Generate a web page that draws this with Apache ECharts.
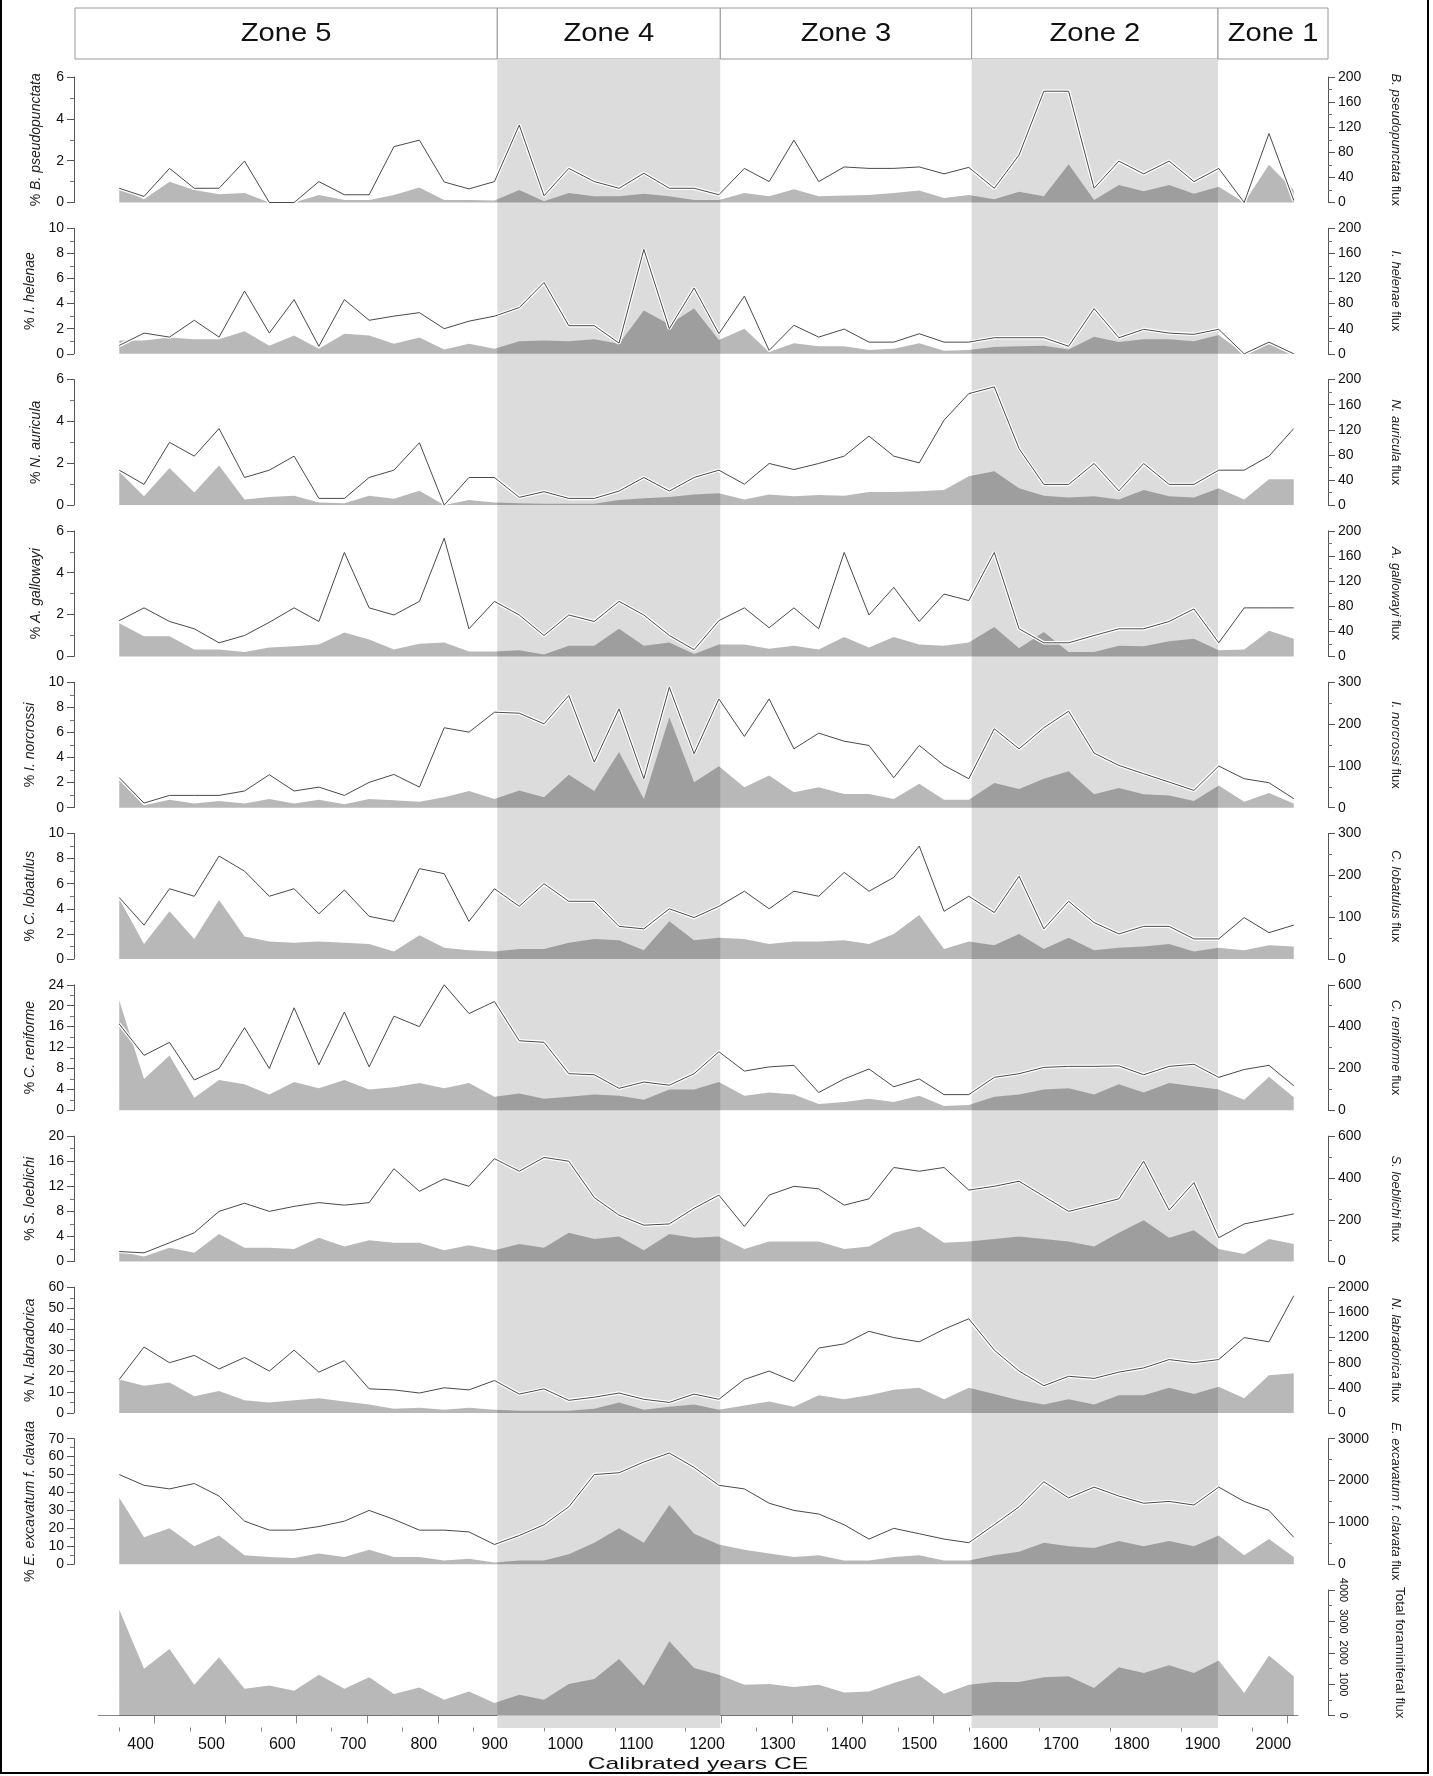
<!DOCTYPE html>
<html>
<head>
<meta charset="utf-8">
<script src="https://cdn.jsdelivr.net/npm/echarts@6/dist/echarts.min.js"></script>
<style>
html, body { margin: 0; padding: 0; background: #fff; }
#chart { width: 1433px; height: 1776px; }
</style>
</head>
<body>
<div id="chart"></div>
<script>
// sample ages (calibrated years CE)
const years = [350, 385, 421, 456, 491, 527, 562, 597, 632, 668, 703, 738, 774, 809, 844, 880,
  915, 950, 985, 1021, 1056, 1091, 1127, 1162, 1197, 1233, 1268, 1303, 1338, 1374, 1409, 1444,
  1480, 1515, 1550, 1586, 1621, 1656, 1691, 1727, 1762, 1797, 1833, 1868, 1903, 1939, 1974, 2009];

const zoneEdges = [884, 1199, 1554, 1902];
const zoneNames = ['Zone 5', 'Zone 4', 'Zone 3', 'Zone 2', 'Zone 1'];
const xMajorTicks = [400, 500, 600, 700, 800, 900, 1000, 1100, 1200, 1300, 1400, 1500, 1600, 1700, 1800, 1900, 2000];
const xMinorTicks = [350, 450, 550, 650, 750, 850, 950, 1050, 1150, 1250, 1350, 1450, 1550, 1650, 1750, 1850, 1950];

// % (line) and flux (filled) per species
const bPseudoPct = [0.68, 0.29, 1.63, 0.68, 0.68, 1.98, 0, 0, 1.0, 0.37, 0.37, 2.67, 2.98, 0.98, 0.65, 1.0, 3.7, 0.32, 1.63, 1.0, 0.68, 1.4, 0.68, 0.68, 0.37, 1.63, 1.0, 2.98, 1.0, 1.7, 1.63, 1.63, 1.7, 1.37, 1.68, 0.68, 2.27, 5.32, 5.32, 0.68, 1.98, 1.37, 1.98, 1.0, 1.63, 0, 3.3, 0.1];
const bPseudoFlux = [23, 5, 33, 20, 13, 15, 0, 0, 12, 4, 4, 12, 24, 4, 4, 3, 20, 2, 15, 10, 10, 14, 10, 4, 4, 15, 10, 21, 10, 11, 12, 15, 19, 7, 12, 5, 17, 10, 61, 4, 28, 18, 28, 14, 25, 0, 60, 20];

const iHelenaePct = [0.67, 1.65, 1.33, 2.67, 1.33, 5.0, 1.65, 4.32, 0.6, 4.32, 2.67, 3.0, 3.28, 2.0, 2.6, 3.0, 3.68, 5.68, 2.24, 2.24, 0.85, 8.32, 2.0, 5.25, 1.6, 4.6, 0.27, 2.27, 1.33, 1.97, 0.93, 0.93, 1.6, 0.93, 0.93, 1.28, 1.28, 1.28, 0.6, 3.6, 1.28, 1.95, 1.65, 1.55, 1.95, 0, 0.93, 0];
const iHelenaeFlux = [21, 21, 26, 23, 23, 36, 13, 29, 8, 32, 29, 16, 26, 7, 16, 8, 20, 21, 20, 23, 16, 69, 47, 72, 22, 40, 3, 17, 12, 12, 6, 8, 17, 5, 6, 11, 12, 13, 7, 27, 19, 23, 23, 20, 30, 0, 18, 0];

const nAuriculaPct = [1.67, 0.99, 3.0, 2.34, 3.66, 1.32, 1.67, 2.34, 0.32, 0.32, 1.32, 1.67, 2.98, 0, 1.32, 1.32, 0.37, 0.64, 0.32, 0.32, 0.67, 1.32, 0.67, 1.32, 1.67, 1.0, 1.99, 1.7, 1.99, 2.34, 3.3, 2.34, 2.02, 4.06, 5.33, 5.65, 2.7, 0.99, 0.99, 1.99, 0.68, 1.99, 0.99, 0.99, 1.67, 1.67, 2.34, 3.66];
const nAuriculaFlux = [53, 14, 59, 20, 63, 9, 13, 15, 4, 3, 15, 10, 23, 0, 8, 4, 3, 2, 2, 2, 8, 11, 13, 17, 19, 9, 17, 14, 16, 15, 21, 21, 22, 24, 46, 54, 27, 15, 12, 14, 9, 24, 14, 12, 27, 9, 41, 41];

const aGallowayiPct = [1.71, 2.32, 1.67, 1.32, 0.65, 1.0, 1.63, 2.32, 1.67, 4.97, 2.32, 1.98, 2.63, 5.65, 1.32, 2.63, 1.98, 1.0, 1.98, 1.67, 2.63, 1.98, 1.0, 0.32, 1.71, 2.32, 1.37, 2.32, 1.32, 4.97, 1.98, 3.3, 1.67, 2.98, 2.67, 4.97, 1.32, 0.65, 0.65, 1.0, 1.32, 1.32, 1.67, 2.27, 0.65, 2.32, 2.32, 2.32];
const aGallowayiFlux = [53, 32, 32, 11, 11, 7, 14, 16, 19, 38, 27, 11, 20, 22, 8, 8, 10, 3, 17, 17, 44, 17, 22, 4, 19, 19, 12, 17, 11, 31, 14, 31, 19, 17, 22, 47, 13, 39, 7, 7, 17, 16, 24, 28, 10, 11, 41, 28];

const iNorcrossiPct = [2.39, 0.37, 0.98, 0.98, 0.98, 1.33, 2.63, 1.33, 1.64, 0.98, 2.02, 2.65, 1.64, 6.37, 6.02, 7.61, 7.53, 6.68, 8.94, 3.63, 7.88, 2.31, 9.6, 4.3, 8.67, 5.68, 8.67, 4.69, 5.94, 5.3, 4.96, 2.39, 4.96, 3.37, 2.31, 6.29, 4.69, 6.37, 7.69, 4.35, 3.37, 2.71, 2.04, 1.38, 3.32, 2.31, 1.99, 0.72];
const iNorcrossiFlux = [72, 6, 19, 10, 16, 10, 21, 10, 19, 8, 21, 18, 14, 25, 40, 21, 41, 25, 79, 40, 133, 21, 216, 61, 99, 49, 77, 37, 49, 33, 33, 21, 57, 19, 19, 59, 45, 69, 87, 32, 47, 32, 29, 16, 53, 14, 35, 10];

const cLobatulusPct = [4.9, 2.7, 5.6, 5.0, 8.2, 7.0, 5.0, 5.6, 3.6, 5.5, 3.4, 3.0, 7.2, 6.8, 3.0, 5.6, 4.2, 6.0, 4.6, 4.6, 2.6, 2.4, 4.0, 3.3, 4.2, 5.4, 4.0, 5.4, 5.0, 6.9, 5.4, 6.5, 9.0, 3.8, 5.0, 3.7, 6.6, 2.4, 4.6, 2.9, 2.0, 2.6, 2.6, 1.6, 1.6, 3.3, 2.1, 2.7];
const cLobatulusFlux = [144, 36, 114, 48, 141, 54, 42, 39, 42, 39, 36, 18, 57, 27, 21, 18, 24, 24, 39, 48, 45, 21, 90, 45, 51, 48, 36, 42, 42, 45, 36, 60, 105, 24, 42, 33, 60, 24, 51, 21, 27, 30, 36, 18, 27, 21, 33, 30];

const cReniformePct = [16.5, 10.5, 13, 5.8, 8, 15.8, 8, 19.6, 8.7, 18.8, 8.3, 18, 16, 24, 18.5, 20.8, 13.3, 13, 7, 6.8, 4.2, 5.4, 4.8, 7, 11.2, 7.5, 8.3, 8.6, 3.4, 6, 7.9, 4.5, 6, 3, 3, 6.3, 7, 8.2, 8.4, 8.4, 8.5, 6.8, 8.4, 8.8, 6.3, 7.8, 8.6, 4.7];
const cReniformeFlux = [525, 150, 262, 60, 145, 125, 75, 135, 105, 145, 100, 110, 130, 105, 130, 65, 80, 55, 65, 75, 70, 50, 100, 100, 135, 70, 85, 75, 30, 40, 55, 40, 70, 20, 25, 65, 75, 100, 105, 75, 125, 85, 130, 115, 100, 50, 160, 62];

const sLoeblichiPct = [1.6, 1.4, 3, 4.6, 8, 9.3, 8, 8.8, 9.4, 9, 9.4, 14.8, 11.2, 13.2, 12, 16.4, 14.4, 16.6, 16, 10.2, 7.4, 5.8, 6, 8.5, 10.6, 5.6, 10.6, 12, 11.6, 9, 10, 15, 14.4, 15, 11.4, 12, 12.8, 10.4, 8, 9, 10, 16, 8.2, 12.6, 3.8, 6, 6.8, 7.6];
const sLoeblichiFlux = [48, 24, 66, 42, 132, 66, 66, 60, 114, 72, 102, 90, 90, 54, 78, 54, 84, 66, 138, 108, 120, 54, 132, 114, 120, 60, 96, 96, 96, 60, 72, 138, 168, 90, 96, 108, 120, 108, 96, 72, 138, 198, 114, 150, 60, 36, 108, 84];

const nLabradoricaPct = [16, 31.5, 24, 27.5, 21, 26.5, 20, 30, 19.5, 25, 11.5, 11, 9.5, 12, 11, 15.5, 9, 11.5, 6, 7.5, 9.5, 6.5, 5, 9, 6.5, 16, 20, 15, 31, 33, 39, 36, 34, 40, 45, 30, 20, 13, 17.5, 16.5, 19.5, 21.5, 25.5, 24, 25.5, 36, 34, 56];
const nLabradoricaFlux = [533, 433, 483, 267, 350, 200, 167, 200, 233, 183, 133, 67, 83, 50, 83, 50, 33, 33, 33, 67, 167, 50, 100, 133, 50, 117, 183, 100, 283, 217, 283, 367, 400, 217, 400, 300, 200, 133, 217, 133, 283, 283, 400, 300, 417, 233, 600, 633];

const eExcavatumPct = [50, 44, 42, 45, 38, 24, 19, 19, 21, 24, 30, 25, 19, 19, 18, 11, 16, 22, 32, 50, 51, 57, 62, 54, 44, 42, 34, 30, 28, 22, 14, 20, 17, 14, 12, 22, 32, 46, 37, 43, 38, 34, 35, 33, 43, 35, 30, 15];
const eExcavatumFlux = [1586, 643, 857, 429, 686, 214, 171, 150, 257, 171, 343, 171, 171, 86, 129, 43, 86, 86, 236, 514, 857, 514, 1414, 729, 471, 343, 257, 171, 214, 86, 86, 171, 214, 86, 86, 214, 300, 514, 429, 386, 557, 429, 557, 429, 686, 214, 600, 171];

const totalFlux = [3382, 1494, 2123, 981, 1856, 853, 960, 790, 1301, 853, 1216, 683, 896, 501, 768, 395, 661, 501, 1003, 1163, 1803, 949, 2368, 1515, 1301, 981, 1003, 907, 981, 736, 768, 1035, 1280, 693, 981, 1067, 1067, 1216, 1248, 875, 1536, 1355, 1600, 1355, 1750, 715, 1910, 1248];

const panels = [
  { pct: bPseudoPct, flux: bPseudoFlux, sp: 'B. pseudopunctata', lmax: 6, lint: 2, rmax: 200, rint: 40 },
  { pct: iHelenaePct, flux: iHelenaeFlux, sp: 'I. helenae', lmax: 10, lint: 2, rmax: 200, rint: 40 },
  { pct: nAuriculaPct, flux: nAuriculaFlux, sp: 'N. auricula', lmax: 6, lint: 2, rmax: 200, rint: 40 },
  { pct: aGallowayiPct, flux: aGallowayiFlux, sp: 'A. gallowayi', lmax: 6, lint: 2, rmax: 200, rint: 40 },
  { pct: iNorcrossiPct, flux: iNorcrossiFlux, sp: 'I. norcrossi', lmax: 10, lint: 2, rmax: 300, rint: 100 },
  { pct: cLobatulusPct, flux: cLobatulusFlux, sp: 'C. lobatulus', lmax: 10, lint: 2, rmax: 300, rint: 100 },
  { pct: cReniformePct, flux: cReniformeFlux, sp: 'C. reniforme', lmax: 24, lint: 4, rmax: 600, rint: 200 },
  { pct: sLoeblichiPct, flux: sLoeblichiFlux, sp: 'S. loeblichi', lmax: 20, lint: 4, rmax: 600, rint: 200 },
  { pct: nLabradoricaPct, flux: nLabradoricaFlux, sp: 'N. labradorica', lmax: 60, lint: 10, rmax: 2000, rint: 400 },
  { pct: eExcavatumPct, flux: eExcavatumFlux, sp: 'E. excavatum f. clavata', lmax: 70, lint: 10, rmax: 3000, rint: 1000 }
];

const FONT = "'Liberation Sans', Arial, sans-serif";
const X_MIN = 320, X_MAX = 2015;
const GRID_LEFT = 98, GRID_RIGHT = 135;
const TOP0 = 77, STEP = 151.3, PH = 125.5;

function nameStyle(size) {
  return {
    fontFamily: FONT, fontSize: size, color: '#222',
    rich: {
      p: { fontFamily: FONT, fontSize: size, color: '#222' },
      i: { fontFamily: FONT, fontSize: size, color: '#222', fontStyle: 'italic' }
    }
  };
}

function yAxisDef(grid, side, max, interval, name) {
  const left = side === 'left';
  return {
    gridIndex: grid, type: 'value', position: side, offset: left ? 24 : 30,
    min: 0, max: max, interval: interval,
    axisLine: { show: true, lineStyle: { color: '#555' } },
    axisTick: { show: true, length: 7, lineStyle: { color: '#555' } },
    minorTick: { show: true, splitNumber: 2, length: 4, lineStyle: { color: '#777' } },
    splitLine: { show: false },
    axisLabel: { fontFamily: FONT, fontSize: 14, color: '#111', margin: 10, formatter: v => String(v) },
    name: name, nameLocation: 'middle', nameRotate: left ? 90 : -90,
    nameGap: left ? 31 : 61,
    nameTextStyle: nameStyle(left ? 14 : 13)
  };
}

const grids = [{ left: GRID_LEFT, right: GRID_RIGHT, top: 59, height: 1669 }];
const xAxes = [{ gridIndex: 0, type: 'value', min: X_MIN, max: X_MAX, show: false }];
const yAxes = [{ gridIndex: 0, type: 'value', min: 0, max: 1, show: false }];
const series = [{
  type: 'line', xAxisIndex: 0, yAxisIndex: 0, data: [[X_MIN, 0]], symbol: 'none',
  lineStyle: { opacity: 0 }, silent: true,
  markArea: {
    silent: true, itemStyle: { color: '#dcdcdc' },
    data: [[{ xAxis: zoneEdges[0] }, { xAxis: zoneEdges[1] }], [{ xAxis: zoneEdges[2] }, { xAxis: zoneEdges[3] }]]
  }
}];

function areaSeries(xi, yi, vals) {
  return {
    type: 'line', xAxisIndex: xi, yAxisIndex: yi, symbol: 'none', silent: true,
    data: years.map((y, i) => [y, vals[i]]),
    lineStyle: { opacity: 0 },
    areaStyle: { color: 'rgba(0,0,0,0.28)', opacity: 1 }
  };
}

panels.forEach((p, k) => {
  const g = k + 1;
  grids.push({ left: GRID_LEFT, right: GRID_RIGHT, top: TOP0 + STEP * k, height: PH });
  xAxes.push({ gridIndex: g, type: 'value', min: X_MIN, max: X_MAX, show: false });
  const li = yAxes.length;
  yAxes.push(yAxisDef(g, 'left', p.lmax, p.lint, '{p|% }{i|' + p.sp + '}'));
  yAxes.push(yAxisDef(g, 'right', p.rmax, p.rint, '{i|' + p.sp + '} {p|flux}'));
  series.push(areaSeries(g, li + 1, p.flux));
  const pts = years.map((y, i) => [y, p.pct[i]]);
  series.push({ type: 'line', xAxisIndex: g, yAxisIndex: li, symbol: 'none', silent: true, data: pts,
    lineStyle: { color: '#ffffff', width: 3.5 } });
  series.push({ type: 'line', xAxisIndex: g, yAxisIndex: li, symbol: 'none', silent: true, data: pts,
    lineStyle: { color: '#4a4a4a', width: 1 } });
});

// total foraminiferal flux panel with the time axis
const gT = panels.length + 1;
grids.push({ left: GRID_LEFT, right: GRID_RIGHT, top: TOP0 + STEP * panels.length, height: PH });
const xiMajor = xAxes.length;
xAxes.push({
  gridIndex: gT, type: 'value', min: X_MIN, max: X_MAX, position: 'bottom', offset: 12,
  axisLine: { show: true, lineStyle: { color: '#888' } },
  axisTick: { show: true, customValues: xMajorTicks, length: 8, lineStyle: { color: '#888' } },
  splitLine: { show: false },
  axisLabel: { customValues: xMajorTicks, fontFamily: FONT, fontSize: 16, color: '#111', margin: 9,
    padding: [0, 28, 0, 0], formatter: v => String(v) }
});
xAxes.push({
  gridIndex: gT, type: 'value', min: X_MIN, max: X_MAX, position: 'bottom', offset: 12,
  axisLine: { show: false },
  axisTick: { show: true, customValues: xMinorTicks, length: 4, lineStyle: { color: '#888' } },
  splitLine: { show: false }, axisLabel: { show: false }
});
const yiTot = yAxes.length;
const totAxis = yAxisDef(gT, 'right', 4000, 1000, 'Total foraminiferal flux');
totAxis.axisLabel.rotate = -90;
totAxis.axisLabel.fontSize = 11;
totAxis.nameGap = 65;
totAxis.nameTextStyle = nameStyle(13.5);
yAxes.push(totAxis);
series.push(areaSeries(xiMajor, yiTot, totalFlux));

const chart = echarts.init(document.getElementById('chart'));
chart.setOption({
  animation: false,
  backgroundColor: '#fff',
  grid: grids,
  xAxis: xAxes,
  yAxis: yAxes,
  series: series
});

// zone header boxes, aligned with the shaded bands
const edgesPx = [75].concat(zoneEdges.map(v => chart.convertToPixel({ xAxisIndex: 0 }, v))).concat([1328]);
const graphic = [];
zoneNames.forEach((name, j) => {
  graphic.push({
    type: 'rect', shape: { x: edgesPx[j], y: 8, width: edgesPx[j + 1] - edgesPx[j], height: 51 },
    style: { fill: '#fff', stroke: '#999', lineWidth: 1 }, silent: true
  });
  graphic.push({
    type: 'text', x: (edgesPx[j] + edgesPx[j + 1]) / 2, y: 34, scaleX: 1.12, silent: true,
    style: { text: name, font: '26px ' + FONT, fill: '#111', align: 'center', verticalAlign: 'middle' }
  });
});
// time axis title, stretched like the original lettering
const midX = (chart.convertToPixel({ xAxisIndex: xiMajor }, X_MIN) + chart.convertToPixel({ xAxisIndex: xiMajor }, X_MAX)) / 2;
graphic.push({
  type: 'text', x: midX, y: 1764, scaleX: 1.45, silent: true,
  style: { text: 'Calibrated years CE', font: '17px ' + FONT, fill: '#111', align: 'center', verticalAlign: 'middle' }
});
graphic.push({
  type: 'polyline', silent: true,
  shape: { points: [[1, 0], [1, 1773], [1428, 1773], [1428, 0]] },
  style: { fill: null, stroke: '#000', lineWidth: 2 }
});
chart.setOption({ graphic: graphic });
</script>
</body>
</html>
